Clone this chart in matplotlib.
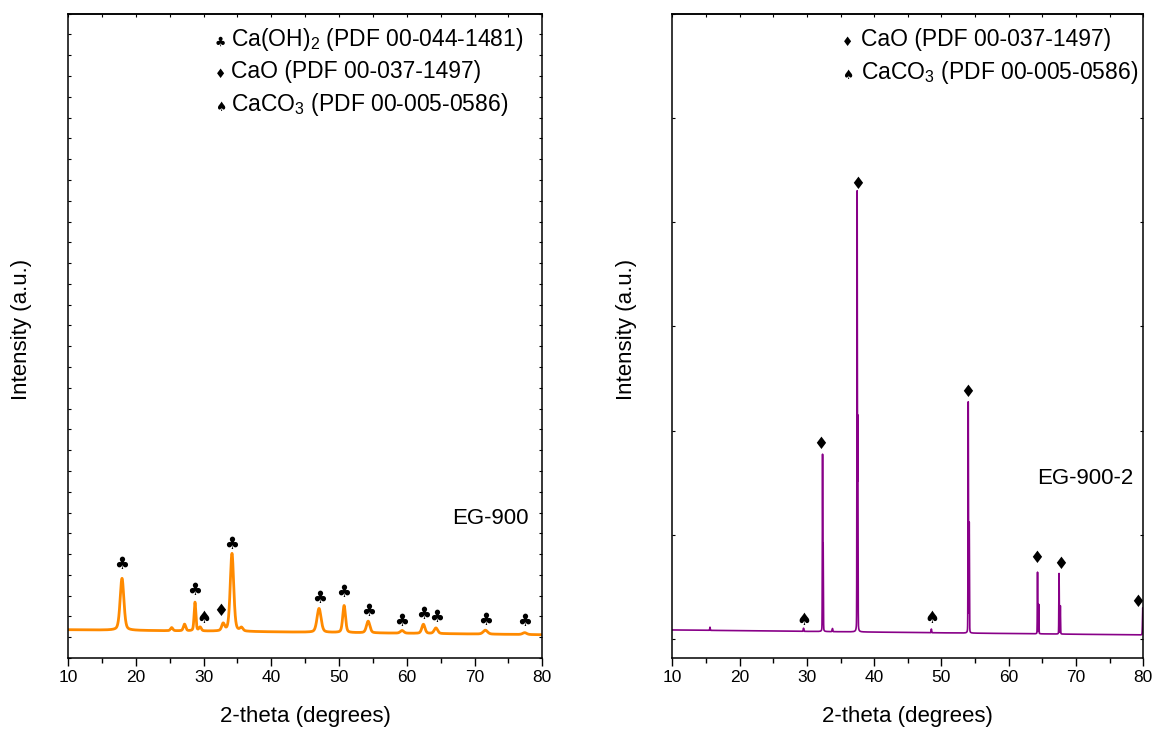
import numpy as np
import matplotlib
matplotlib.use("Agg")
import matplotlib.pyplot as plt
from matplotlib.ticker import MultipleLocator

plt.rcParams['font.family'] = ['Liberation Sans', 'DejaVu Sans']
plt.rcParams['mathtext.fontset'] = 'custom'
plt.rcParams['mathtext.rm'] = 'Liberation Sans'
plt.rcParams['mathtext.it'] = 'Liberation Sans:italic'
plt.rcParams['mathtext.bf'] = 'Liberation Sans:bold'
plt.rcParams['mathtext.default'] = 'regular'

# ---------------- data ----------------
# Left panel: EG-900  (2-theta in degrees, intensity in a.u.)
left_bg = [136, 112]                      # background at 10 deg and 80 deg
left_pos = [17.97, 25.3, 27.2, 28.74, 29.5, 32.9, 34.2, 35.6, 47.05, 50.75, 54.3, 59.3, 62.45, 64.3, 71.6, 77.4]
left_hgt = [250, 15, 32, 138, 18, 34, 375, 16, 115, 130, 56, 13, 44, 27, 19, 9]
left_fwhm = [0.65, 0.4, 0.4, 0.3, 0.4, 0.5, 0.6, 0.5, 0.7, 0.48, 0.6, 0.6, 0.55, 0.6, 0.75, 0.7]

# Right panel: EG-900-2
right_bg = [1089, 1041]
right_pos = [15.6, 29.5, 32.33, 32.42, 33.8, 37.47, 37.57, 48.5, 53.98, 54.13, 64.28, 64.46, 67.48, 67.67, 79.92]
right_hgt = [30, 30, 1680, 800, 30, 4200, 2000, 35, 2210, 1050, 590, 280, 580, 270, 260]
right_fwhm = [0.08, 0.1, 0.07, 0.07, 0.1, 0.07, 0.07, 0.08, 0.07, 0.07, 0.07, 0.07, 0.07, 0.07, 0.1]

# Phase marker annotations: (symbol, 2-theta, intensity)
left_mark_sym = ['♣', '♣', '♠', '♦', '♣', '♣', '♣', '♣', '♣', '♣', '♣', '♣', '♣']
left_mark_x = [17.97, 28.74, 30.07, 32.58, 34.2, 47.19, 50.73, 54.42, 59.29, 62.54, 64.46, 71.69, 77.45]
left_mark_y = [454, 326, 194, 228, 550, 290, 319, 228, 179, 213, 199, 184, 179]

right_mark_sym = ['♠', '♦', '♦', '♠', '♦', '♦', '♦', '♦']
right_mark_x = [29.57, 32.05, 37.49, 48.55, 53.84, 64.2, 67.72, 79.16]
right_mark_y = [1185, 2873, 5368, 1207, 3370, 1780, 1722, 1354]

left_legend = ['Ca(OH)$_2$ (PDF 00-044-1481)', 'CaO (PDF 00-037-1497)', 'CaCO$_3$ (PDF 00-005-0586)']
left_legend_sym = ['♣', '♦', '♠']
right_legend = ['CaO (PDF 00-037-1497)', 'CaCO$_3$ (PDF 00-005-0586)']
right_legend_sym = ['♦', '♠']

x_ticks = [10, 20, 30, 40, 50, 60, 70, 80]

SYM_FONT = ['DejaVu Sans']


def pattern(x, bg, pos, hgt, fwhm, eta=0.3):
    y = bg[0] + (bg[1] - bg[0]) * (x - x[0]) / (x[-1] - x[0])
    for p, h, w in zip(pos, hgt, fwhm):
        g = np.exp(-4 * np.log(2) * ((x - p) / w) ** 2)
        l = 1.0 / (1.0 + 4 * ((x - p) / w) ** 2)
        y = y + h * ((1 - eta) * g + eta * l)
    return y


x = np.arange(10.0, 80.0 + 1e-9, 0.004)
y_left = pattern(x, left_bg, left_pos, left_hgt, left_fwhm, eta=0.35)
y_right = pattern(x, right_bg, right_pos, right_hgt, right_fwhm, eta=0.15)

fig = plt.figure(figsize=(11.54, 7.29), dpi=100)
axL = fig.add_axes([68 / 1154, 71 / 729, 474.3 / 1154, 644.3 / 729])
axR = fig.add_axes([672.3 / 1154, 71 / 729, 471 / 1154, 644.3 / 729])


def style(ax, ylim, ystep):
    ax.set_xlim(10, 80)
    ax.set_ylim(*ylim)
    ax.set_xticks(x_ticks)
    ax.xaxis.set_minor_locator(MultipleLocator(5))
    ax.yaxis.set_major_locator(MultipleLocator(ystep))
    ax.tick_params(axis='x', which='major', direction='out', length=6, width=1.0,
                   labelsize=12.5, pad=3, top=False)
    ax.tick_params(axis='x', which='minor', direction='out', length=3.5, width=1.0, top=False)
    ax.tick_params(axis='y', which='both', direction='in', length=2.2, width=0.8,
                   left=True, right=True, labelleft=False)
    for s in ax.spines.values():
        s.set_linewidth(1.1)
    sec = ax.secondary_xaxis('top')
    sec.set_xticks(np.arange(10, 81, 5))
    sec.tick_params(direction='in', length=2.2, width=0.8, labeltop=False)
    sec.spines['top'].set_linewidth(1.1)
    ax.set_xlabel('2-theta (degrees)', fontsize=16)
    ax.xaxis.label.set_va('center')
    ax.xaxis.set_label_coords(0.5, -0.091)
    ax.set_ylabel('Intensity (a.u.)', fontsize=16)
    ax.yaxis.label.set_va('center')
    ax.yaxis.set_label_coords(-0.097, 0.51)


style(axL, (0, 3100), 100)
style(axR, (820, 7000), 1000)

axL.plot(x, y_left, color='#FF8A00', lw=2.0)
axR.plot(x, y_right, color='#880088', lw=1.2)

for s, xm, ym in zip(left_mark_sym, left_mark_x, left_mark_y):
    axL.text(xm, ym, s, fontsize=12, ha='center', va='center', color='black', family=SYM_FONT)
for s, xm, ym in zip(right_mark_sym, right_mark_x, right_mark_y):
    axR.text(xm, ym, s, fontsize=12, ha='center', va='center', color='black', family=SYM_FONT)


def px2frac(ax_left, ax_w, xpx, ypx):
    return (xpx - ax_left) / ax_w, (658.3 - ypx) / 644.3


left_rows_y = [46.5, 78.5, 111.0]
for lab, sym, yb in zip(left_legend, left_legend_sym, left_rows_y):
    fx, fy = px2frac(68, 474.3, 231, yb)
    axL.text(fx, fy, lab, transform=axL.transAxes, fontsize=16.5, ha='left', va='baseline')
    sx, sy = px2frac(68, 474.3, 215, yb)
    axL.text(sx, sy, sym, transform=axL.transAxes, fontsize=9, ha='left', va='baseline',
             family=SYM_FONT)

right_rows_y = [46.0, 79.5]
for lab, sym, yb in zip(right_legend, right_legend_sym, right_rows_y):
    fx, fy = px2frac(672.3, 471, 861, yb)
    axR.text(fx, fy, lab, transform=axR.transAxes, fontsize=16.5, ha='left', va='baseline')
    sx, sy = px2frac(672.3, 471, 842, yb)
    axR.text(sx, sy, sym, transform=axR.transAxes, fontsize=9, ha='left', va='baseline',
             family=SYM_FONT)

fx, fy = px2frac(68, 474.3, 529, 519)
axL.text(fx, fy, 'EG-900', transform=axL.transAxes, fontsize=16, ha='right', va='center')
fx, fy = px2frac(672.3, 471, 1133, 479)
axR.text(fx, fy, 'EG-900-2', transform=axR.transAxes, fontsize=16, ha='right', va='center')

fig.savefig('out.png', dpi=100)
